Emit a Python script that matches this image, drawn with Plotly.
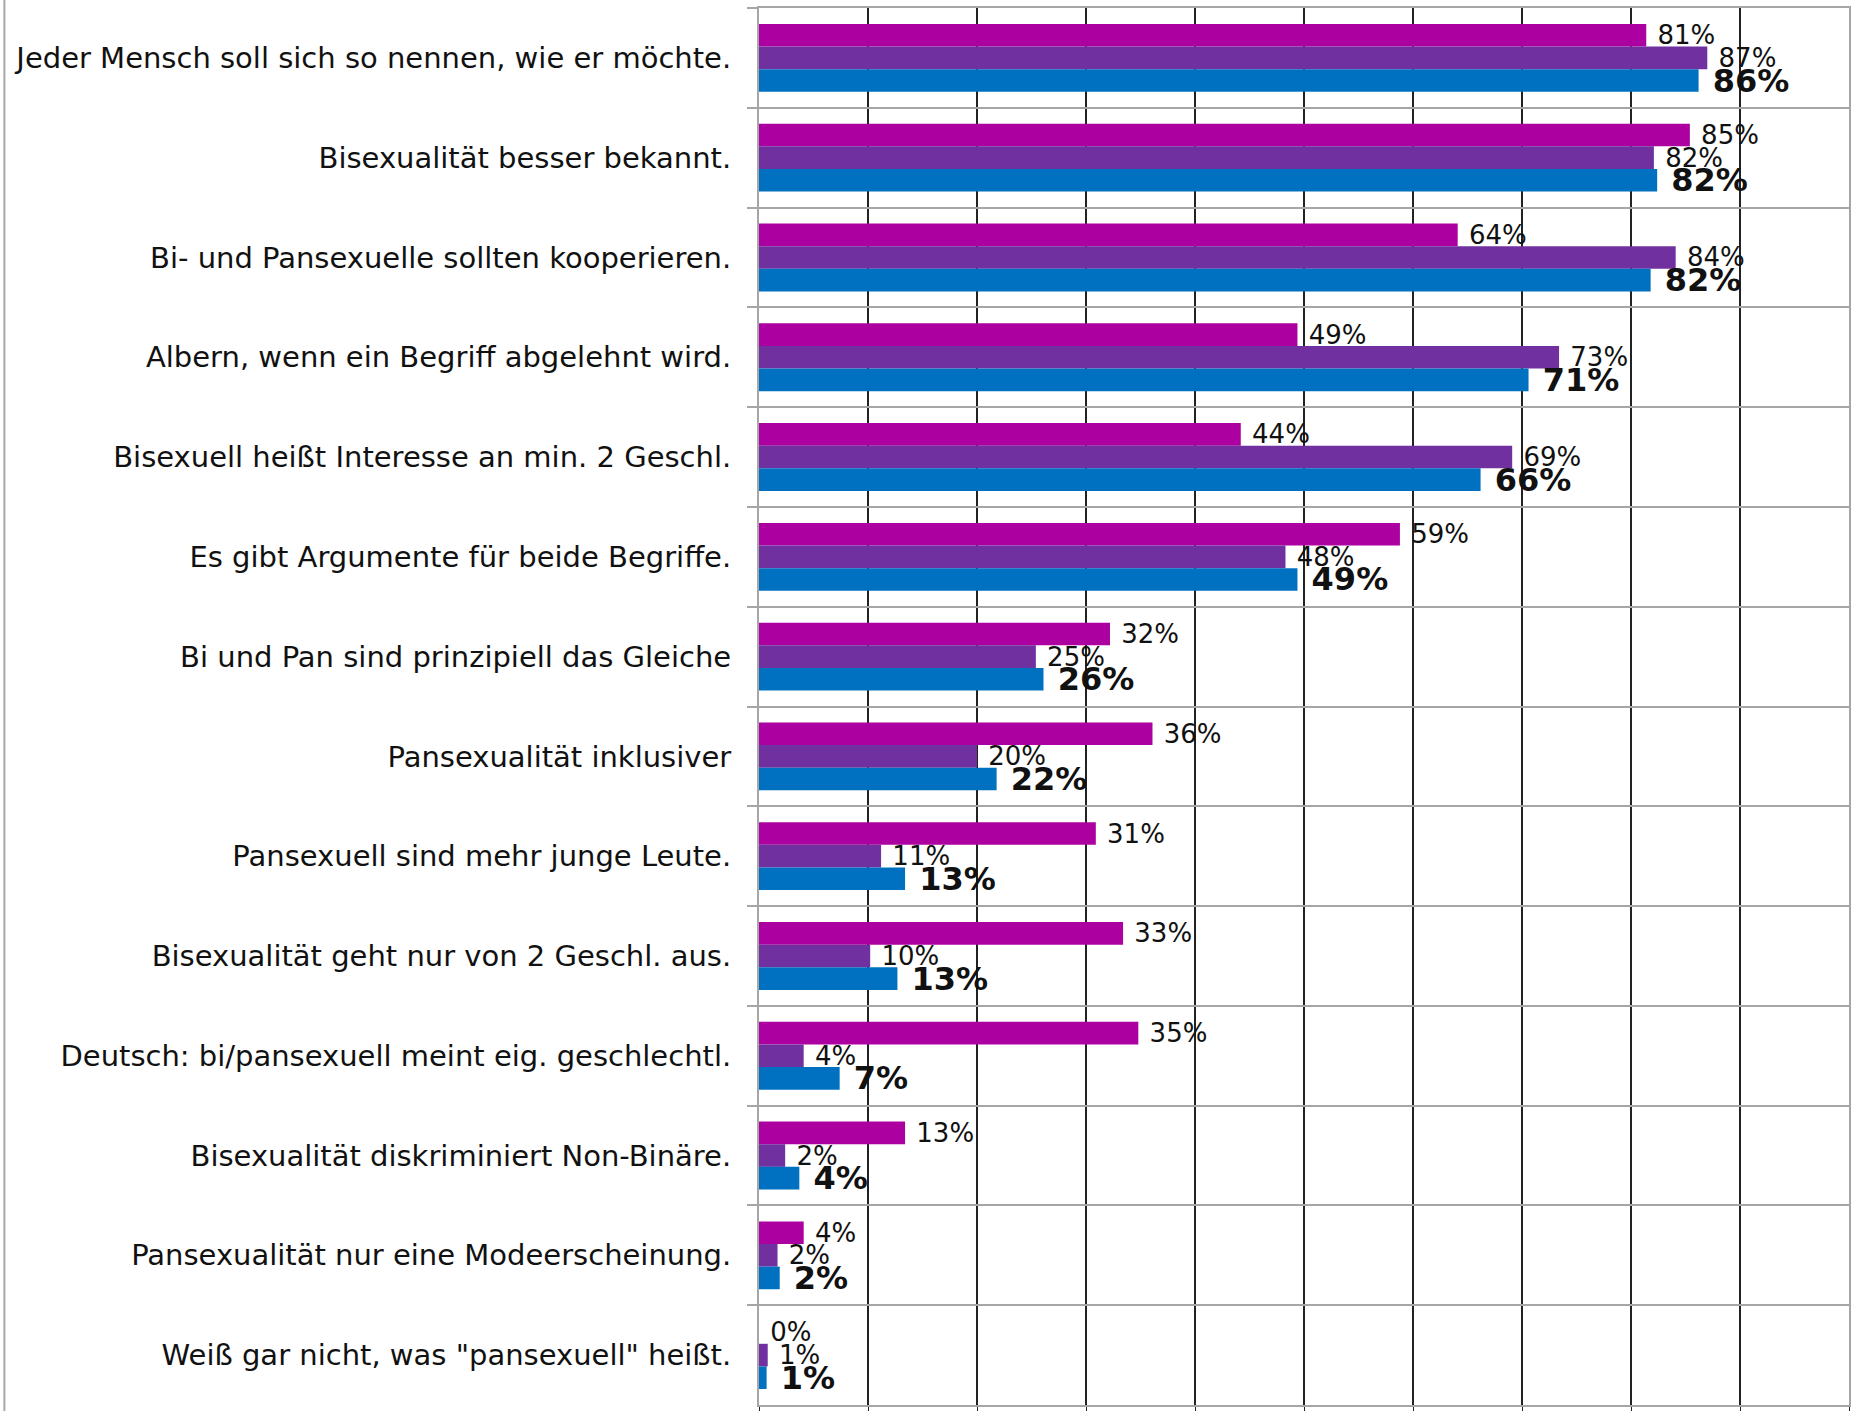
import plotly.graph_objects as go

categories = [
    "Jeder Mensch soll sich so nennen, wie er möchte.",
    "Bisexualität besser bekannt.",
    "Bi- und Pansexuelle sollten kooperieren.",
    "Albern, wenn ein Begriff abgelehnt wird.",
    "Bisexuell heißt Interesse an min. 2 Geschl.",
    "Es gibt Argumente für beide Begriffe.",
    "Bi und Pan sind prinzipiell das Gleiche",
    "Pansexualität inklusiver",
    "Pansexuell sind mehr junge Leute.",
    "Bisexualität geht nur von 2 Geschl. aus.",
    "Deutsch: bi/pansexuell meint eig. geschlechtl.",
    "Bisexualität diskriminiert Non-Binäre.",
    "Pansexualität nur eine Modeerscheinung.",
    "Weiß gar nicht, was \"pansexuell\" heißt.",
]
# values (percent); labels show them rounded
series_magenta = [81.4, 85.4, 64.1, 49.4, 44.2, 58.8, 32.2, 36.1, 30.9, 33.4, 34.8, 13.4, 4.1, 0.0]
series_purple = [87.0, 82.1, 84.1, 73.4, 69.1, 48.3, 25.4, 20.0, 11.2, 10.2, 4.1, 2.4, 1.7, 0.8]
series_blue = [86.2, 82.4, 81.8, 70.6, 66.2, 49.4, 26.1, 21.8, 13.4, 12.7, 7.4, 3.7, 1.9, 0.7]

FONT = "DejaVu Sans"
fig = go.Figure()
specs = [
    (series_magenta, "#AD00A0", 26, "normal"),
    (series_purple, "#7030A0", 26, "normal"),
    (series_blue, "#0070C0", 32, "bold"),
]
for vals, color, fsize, weight in specs:
    fig.add_trace(go.Bar(
        y=categories, x=vals, orientation="h",
        marker=dict(color=color, line=dict(width=0)),
        texttemplate="\u00a0%{x:.0f}%", textposition="outside",
        textfont=dict(family=FONT, size=fsize, color="#111111", weight=weight),
        constraintext="none", cliponaxis=False, hoverinfo="skip",
    ))

fig.update_layout(
    width=1853, height=1411,
    margin=dict(l=759, r=2, t=8, b=2),
    barmode="group", bargap=0.32, bargroupgap=0,
    showlegend=False,
    plot_bgcolor="white", paper_bgcolor="white",
    font=dict(family=FONT, color="#111111"),
)
fig.update_xaxes(
    range=[0, 100], dtick=10, showticklabels=False,
    showgrid=True, gridcolor="#222222", gridwidth=1.5,
    zeroline=False, showline=True, mirror=True, linecolor="#a6a6a6", linewidth=2,
    ticks="outside", ticklen=4, tickcolor="#222222",
)
fig.update_yaxes(
    autorange="reversed", type="category", tickson="boundaries",
    showgrid=True, gridcolor="#a6a6a6", gridwidth=2,
    showline=True, mirror=True, linecolor="#a6a6a6", linewidth=2,
    ticks="outside", ticklen=10, tickcolor="#a6a6a6", tickwidth=2,
    ticklabelstandoff=20,
    tickfont=dict(family=FONT, size=29, color="#111111"),
)
fig.add_shape(type="line", xref="paper", yref="paper",
              x0=(3 - 759) / 1092, x1=(3 - 759) / 1092, y0=-0.01, y1=1.01,
              line=dict(color="#a6a6a6", width=2))

fig.write_html("out.html", config={"displayModeBar": False},
               post_script="document.body.style.margin='0';")
